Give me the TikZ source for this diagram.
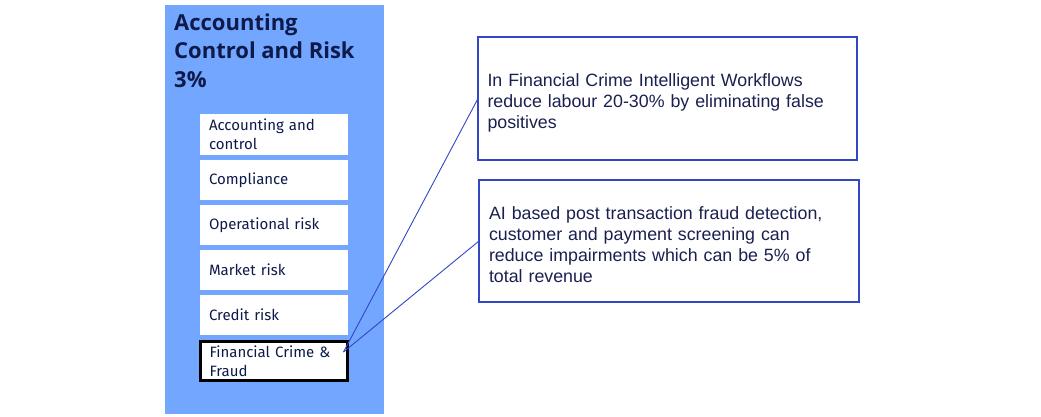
\documentclass[tikz,border=0pt]{standalone}
\usepackage{fontspec}
\setmainfont{Fira Sans}
\newfontfamily\arialfont{Liberation Sans}
\newfontfamily\titlefont{Open Sans}
\definecolor{panelblue}{HTML}{72A6FF}
\definecolor{navy}{HTML}{0E1A4A}
\definecolor{txtnavy}{HTML}{1A2050}
\definecolor{edgeblue}{HTML}{3346C6}
\begin{document}
\begin{tikzpicture}[x=1pt,y=-1pt,
  panel/.style={rectangle, fill=panelblue, draw=none, inner sep=0pt, anchor=north west},
  titletext/.style={anchor=north west, align=left, inner sep=0pt, text=navy,
    font=\titlefont\fontsize{22}{28.5}\selectfont\bfseries},
  itembox/.style={rectangle, fill=white, draw=none, anchor=north west, outer sep=0pt,
    minimum width=148pt, minimum height=40pt, text width=130pt, inner xsep=9pt, inner ysep=0pt,
    align=left, text=navy, font=\fontsize{15}{19}\selectfont},
  hilite/.style={itembox, draw=black, line width=3pt, text width=129pt},
  notebox/.style={rectangle, draw=edgeblue, line width=1.1pt, fill=white, anchor=north west,
    outer sep=0pt, inner xsep=9pt, inner ysep=0pt, align=left, text=txtnavy, text width=360pt,
    font=\arialfont\fontsize{17.8}{21}\selectfont},
  link/.style={draw=edgeblue, line width=0.9pt}
]
\useasboundingbox (0,0) rectangle (1041,416);
\fill[white] (0,0) rectangle (1041,416);
\node[panel, minimum width=219pt, minimum height=409pt] (panel) at (165,5) {};
\node[titletext] (title) at (174,13.5) {Accounting\\Control and Risk\\3\%};
\node[itembox, minimum height=41pt] (acc) at (200,114) {Accounting and\\control};
\node[itembox] (comp) at (200,160) {Compliance};
\node[itembox] (oper) at (200,205) {Operational risk};
\node[itembox] (mkt) at (200,250) {Market risk};
\node[itembox] (cred) at (200,295) {Credit risk};
\node[hilite, minimum width=147pt, minimum height=39pt] (fin) at (200.5,341.5) {Financial Crime \&\\Fraud};
\node[notebox, minimum width=379pt, minimum height=123pt] (boxA) at (478,37)
  {\rule{0pt}{21pt}In Financial Crime Intelligent Workflows\\reduce labour 20-30\% by eliminating false\\positives};
\node[notebox, minimum width=380pt, minimum height=122pt] (boxB) at (479,180)
  {\rule{0pt}{21pt}AI based post transaction fraud detection,\\customer and payment screening can\\reduce impairments which can be 5\% of\\total revenue};
\coordinate (fc) at ([xshift=-4pt,yshift=9pt]fin.east);
\draw[link] (fc) -- (boxA.west);
\draw[link] (fc) -- (boxB.west);
\end{tikzpicture}
\end{document}
